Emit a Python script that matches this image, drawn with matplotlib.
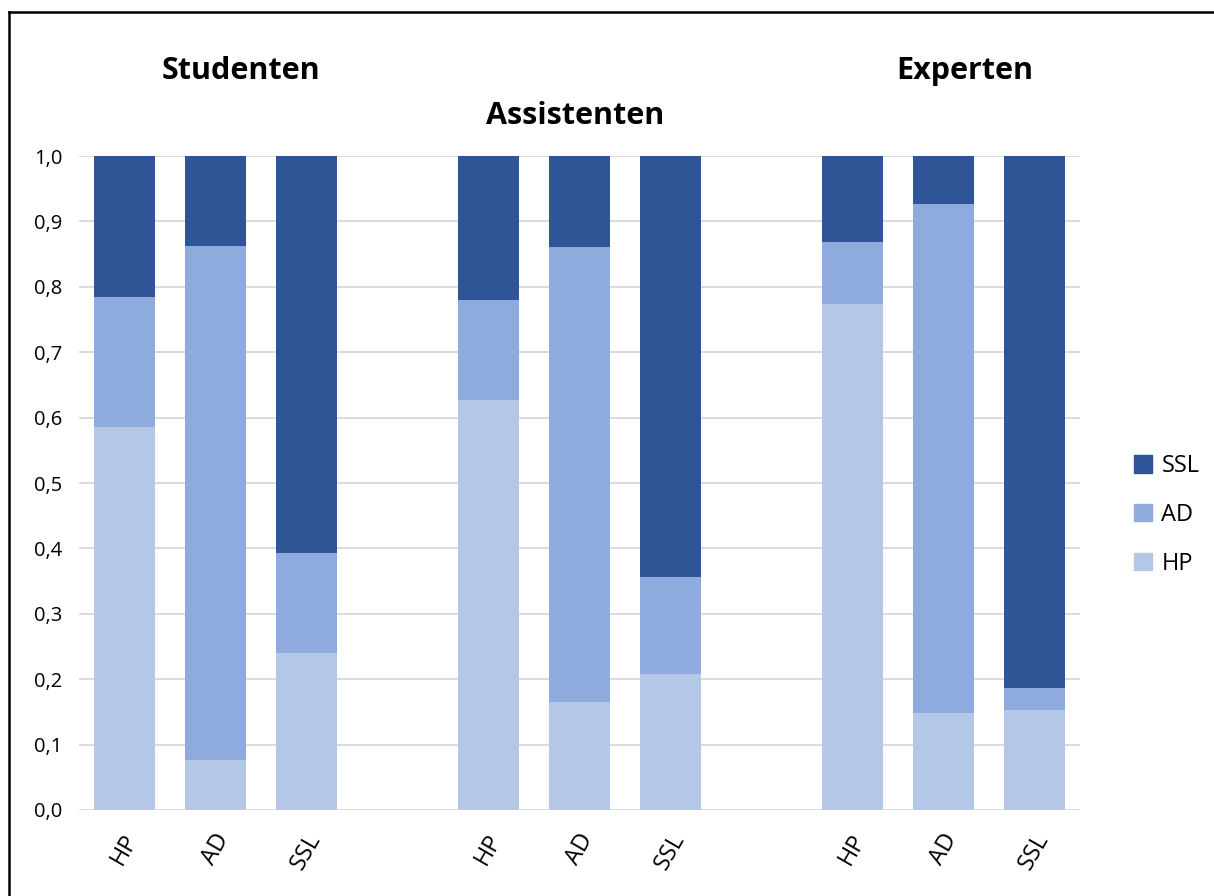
import numpy as np
import matplotlib.pyplot as plt
from matplotlib.lines import Line2D
from matplotlib.patches import Patch

plt.rcParams['font.family'] = ['Open Sans', 'DejaVu Sans']

groups = ['Studenten', 'Assistenten', 'Experten']
categories = ['HP', 'AD', 'SSL']

# shares per bar, order: Studenten HP/AD/SSL, Assistenten ..., Experten ...
hp = [0.586, 0.076, 0.240, 0.627, 0.165, 0.208, 0.774, 0.148, 0.153]
ad = [0.198, 0.786, 0.153, 0.153, 0.696, 0.148, 0.095, 0.779, 0.034]
ssl = [0.216, 0.138, 0.607, 0.220, 0.139, 0.644, 0.131, 0.073, 0.813]

c_hp = '#B4C7E7'
c_ad = '#8FAADC'
c_ssl = '#2F5597'

x = np.array([0, 1, 2, 4, 5, 6, 8, 9, 10])
xlabels = categories * 3

fig = plt.figure(figsize=(12.14, 8.96), dpi=100)
ax = fig.add_axes([79/1214, 1 - 810/896, (1080-79)/1214, (810-156)/896])

hp = np.array(hp)
ad = np.array(ad)
ssl = np.array(ssl)
w = 0.67
ax.bar(x, hp, w, color=c_hp, zorder=2)
ax.bar(x, ad, w, bottom=hp, color=c_ad, zorder=2)
ax.bar(x, ssl, w, bottom=hp + ad, color=c_ssl, zorder=2)

ax.set_xlim(-0.5, 10.5)
ax.set_ylim(0, 1.0)
ax.set_yticks(np.arange(0, 1.01, 0.1))
ax.set_yticklabels([f'{v:.1f}'.replace('.', ',') for v in np.arange(0, 1.01, 0.1)], fontsize=14.5)
ax.yaxis.grid(True, color='#D9D9D9', linewidth=1.3, zorder=0)
ax.set_xticks(x)
ax.set_xticklabels(xlabels, rotation=60, fontsize=17, ha='center', va='top')
ax.tick_params(length=0)
ax.tick_params(axis='y', pad=12)
ax.tick_params(axis='x', pad=14)
for s in ax.spines.values():
    s.set_visible(False)

# group titles
fig.text(241/1214, 1 - 71/896, groups[0], fontsize=22, fontweight='bold', ha='center', va='center')
fig.text(575/1214, 1 - 116/896, groups[1], fontsize=22, fontweight='bold', ha='center', va='center')
fig.text(965/1214, 1 - 71/896, groups[2], fontsize=22, fontweight='bold', ha='center', va='center')

handles = [Patch(color=c_ssl), Patch(color=c_ad), Patch(color=c_hp)]
fig.legend(handles, ['SSL', 'AD', 'HP'], loc='center left', bbox_to_anchor=(1113/1214, 1 - 515/896),
           frameon=False, fontsize=17, handlelength=0.75, handleheight=0.75, handletextpad=0.4,
           labelspacing=1.05)

# frame lines along top and left edge
fig.add_artist(Line2D([9/1214, 1], [1 - 12/896, 1 - 12/896], color='black', linewidth=1.8))
fig.add_artist(Line2D([9/1214, 9/1214], [0, 1 - 12/896], color='black', linewidth=1.8))

fig.savefig('out.png', dpi=100)
